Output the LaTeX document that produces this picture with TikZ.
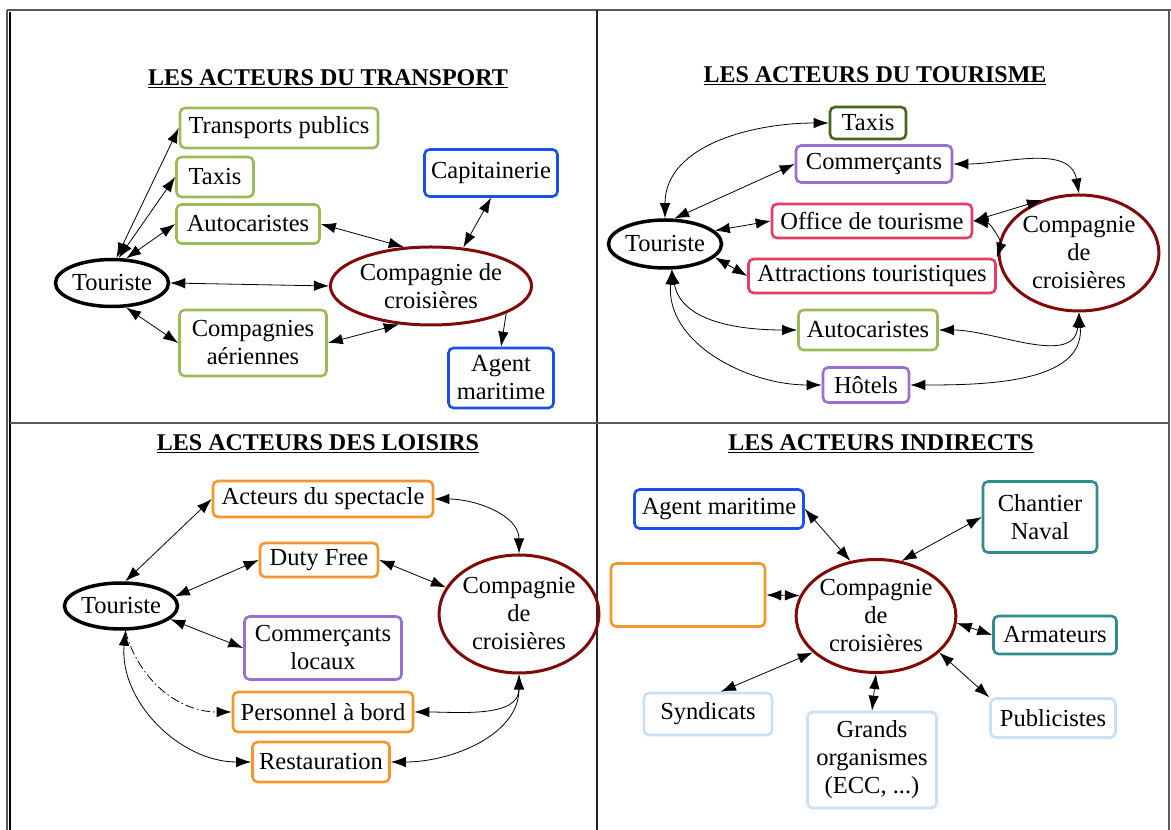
\documentclass[tikz,border=0pt]{standalone}
\usepackage{fontspec}
\setmainfont{Liberation Serif}
\usetikzlibrary{shapes.geometric,arrows.meta}

\definecolor{vert}{RGB}{155,187,89}
\definecolor{vertfonce}{RGB}{70,100,30}
\definecolor{bleu}{RGB}{25,80,235}
\definecolor{bordeaux}{RGB}{128,10,10}
\definecolor{violet}{RGB}{155,110,210}
\definecolor{rose}{RGB}{228,60,100}
\definecolor{orange}{RGB}{245,150,45}
\definecolor{sarcelle}{RGB}{45,140,140}
\definecolor{bleuclair}{RGB}{200,225,245}

\begin{document}
\begin{tikzpicture}[x=1pt,y=1pt,
    >={Latex[length=15pt,width=10.5pt]},
    every node/.style={font=\fontsize{24.5}{28}\selectfont},
    taille/.style 2 args={minimum width=#1pt, minimum height=#2pt},
    acteur/.style={draw, rounded corners=5pt, line width=2.6pt, align=center, inner sep=2pt},
    touriste/.style={draw, ellipse, line width=3.5pt, inner sep=0pt},
    compagnie/.style={draw=bordeaux, ellipse, line width=3pt, align=center, inner sep=0pt},
    titre/.style={anchor=base, font=\fontsize{24}{28}\selectfont\bfseries},
    lien/.style={<->, line width=0.8pt},
    pointille/.style={dash pattern=on 9pt off 3pt on 1.5pt off 3pt},
    cadre/.style={line width=1.8pt, draw=black!65}]
    \useasboundingbox (0,0) rectangle (1171,830);

    % cadre
    \draw[cadre] (7,820) -- (1171,820);
    \draw[cadre] (7,820) -- (7,0);
    \draw[line width=1.6pt] (10,818) -- (10,0);
    \draw[cadre] (1169,820) -- (1169,0);
    \draw[cadre, draw=black!85] (597,820) -- (597,0);
    \draw[cadre] (10,407) -- (1169,407);

    % transport
    \node[titre] (titre1) at (328,744) {\underline{LES ACTEURS DU TRANSPORT}};
    \node[acteur, draw=vert, taille={198}{40}] (tp) at (279,702) {Transports publics};
    \node[acteur, draw=vert, taille={77}{40}] (taxi1) at (215,653) {Taxis};
    \node[acteur, draw=vert, taille={143}{39}] (auto1) at (248,606) {Autocaristes};
    \node[touriste, taille={109}{47}] (tour1) at (112,547) {Touriste};
    \node[compagnie, taille={162}{78}] (comp1) at (431,544) {Compagnie de\\croisières};
    \node[acteur, draw=vert, taille={147}{66}] (aer) at (253,487) {Compagnies\\aériennes};
    \node[acteur, draw=bleu, taille={133}{47}] (cap) at (491,657) {Capitainerie};
    \node[acteur, draw=bleu, taille={105}{60}] (agent1) at (501,452) {Agent\\maritime};
    \path[lien]
    (tour1.80) edge (tp.west)
    (tour1.75) edge (taxi1.west)
    (tour1.60) edge (auto1.west)
    (tour1.east) edge (comp1.west)
    (tour1.-60) edge (aer.west)
    (auto1.east) edge (comp1.125)
    (aer.east) edge (comp1.230)
    (cap.south) edge (comp1.50)
    (comp1.-20) edge[->] (agent1.north);

    % tourisme
    \node[titre] (titre2) at (875,747) {\underline{LES ACTEURS DU TOURISME}};
    \node[acteur, draw=vertfonce, taille={76}{32}] (taxi2) at (868,707) {Taxis};
    \node[acteur, draw=violet, taille={156}{37}] (comm2) at (874,666) {Commerçants};
    \node[acteur, draw=rose, taille={200}{34}] (office) at (872,609) {Office de tourisme};
    \node[acteur, draw=rose, taille={247}{34}] (attr) at (872,554) {Attractions touristiques};
    \node[touriste, taille={109}{48}] (tour2) at (665,586) {Touriste};
    \node[compagnie, taille={138}{116}] (comp2) at (1079,577) {Compagnie\\de\\croisières};
    \node[acteur, draw=vert, taille={139}{40}] (auto2) at (868,500) {Autocaristes};
    \node[acteur, draw=violet, taille={86}{35}] (hotels) at (866,445) {Hôtels};
    \path[lien]
    (tour2.north) edge[out=90, in=180] (taxi2.west)
    (tour2.70) edge (comm2.west)
    (comm2.east) edge[out=0, in=100] (comp2.north)
    (tour2.15) edge (office.west)
    (tour2.-15) edge (attr.west)
    (office.east) edge (comp2.125)
    (office.east) edge[bend left=50] (attr.north east)
    (tour2.-75) edge[out=-80, in=180] (auto2.west)
    (tour2.-75) edge[out=-95, in=180] (hotels.west)
    (auto2.east) edge[out=0, in=-95] (comp2.south)
    (hotels.east) edge[out=0, in=-85] (comp2.south);

    % loisirs
    \node[titre] (titre3) at (318,379) {\underline{LES ACTEURS DES LOISIRS}};
    \node[acteur, draw=orange, taille={220}{36}] (spect) at (323,331) {Acteurs du spectacle};
    \node[acteur, draw=orange, taille={118}{34}] (duty) at (319,270) {Duty Free};
    \node[touriste, taille={106}{46}] (tour3) at (121,224) {Touriste};
    \node[acteur, draw=violet, taille={157}{63}] (commloc) at (323,182) {Commerçants\\locaux};
    \node[acteur, draw=orange, taille={180}{40}] (perso) at (323,118) {Personnel à bord};
    \node[acteur, draw=orange, taille={137}{40}] (resto) at (321,68) {Restauration};
    \node[compagnie, taille={140}{118}] (comp3) at (519,216) {Compagnie\\de\\croisières};
    \path[lien]
    (tour3.80) edge (spect.west)
    (tour3.10) edge (duty.west)
    (tour3.-15) edge (commloc.west)
    (tour3.-80) edge[->, pointille, out=-75, in=180] (perso.west)
    (tour3.-80) edge[out=-95, in=180] (resto.west)
    (spect.east) edge[out=0, in=90] (comp3.north)
    (duty.east) edge (comp3.160)
    (perso.east) edge[out=0, in=-90] (comp3.south)
    (resto.east) edge[out=0, in=-90] (comp3.south);

    % indirects
    \node[titre] (titre4) at (881,379) {\underline{LES ACTEURS INDIRECTS}};
    \node[acteur, draw=bleu, taille={169}{39}] (agent2) at (719,321) {Agent maritime};
    \node[acteur, draw=sarcelle, taille={114}{71}] (chantier) at (1040,313) {Chantier\\Naval};
    \node[acteur, draw=orange, taille={154}{63}] (vide) at (688,235) {};
    \node[compagnie, taille={153}{113}] (comp4) at (876,214) {Compagnie\\de\\croisières};
    \node[acteur, draw=sarcelle, taille={123}{38}] (armat) at (1055,195) {Armateurs};
    \node[acteur, draw=bleuclair, taille={128}{42}] (syndic) at (708,116) {Syndicats};
    \node[acteur, draw=bleuclair, taille={129}{96}] (grands) at (872,70) {Grands\\organismes\\(ECC, ...)};
    \node[acteur, draw=bleuclair, taille={125}{39}] (public) at (1053,112) {Publicistes};
    \path[lien]
    (agent2.east) edge (comp4.115)
    (chantier.west) edge (comp4.65)
    (vide.east) edge (comp4.165)
    (armat.west) edge (comp4.-5)
    (syndic.60) edge (comp4.210)
    (grands.north) edge (comp4.south)
    (public.north west) edge (comp4.-30);
\end{tikzpicture}
\end{document}
